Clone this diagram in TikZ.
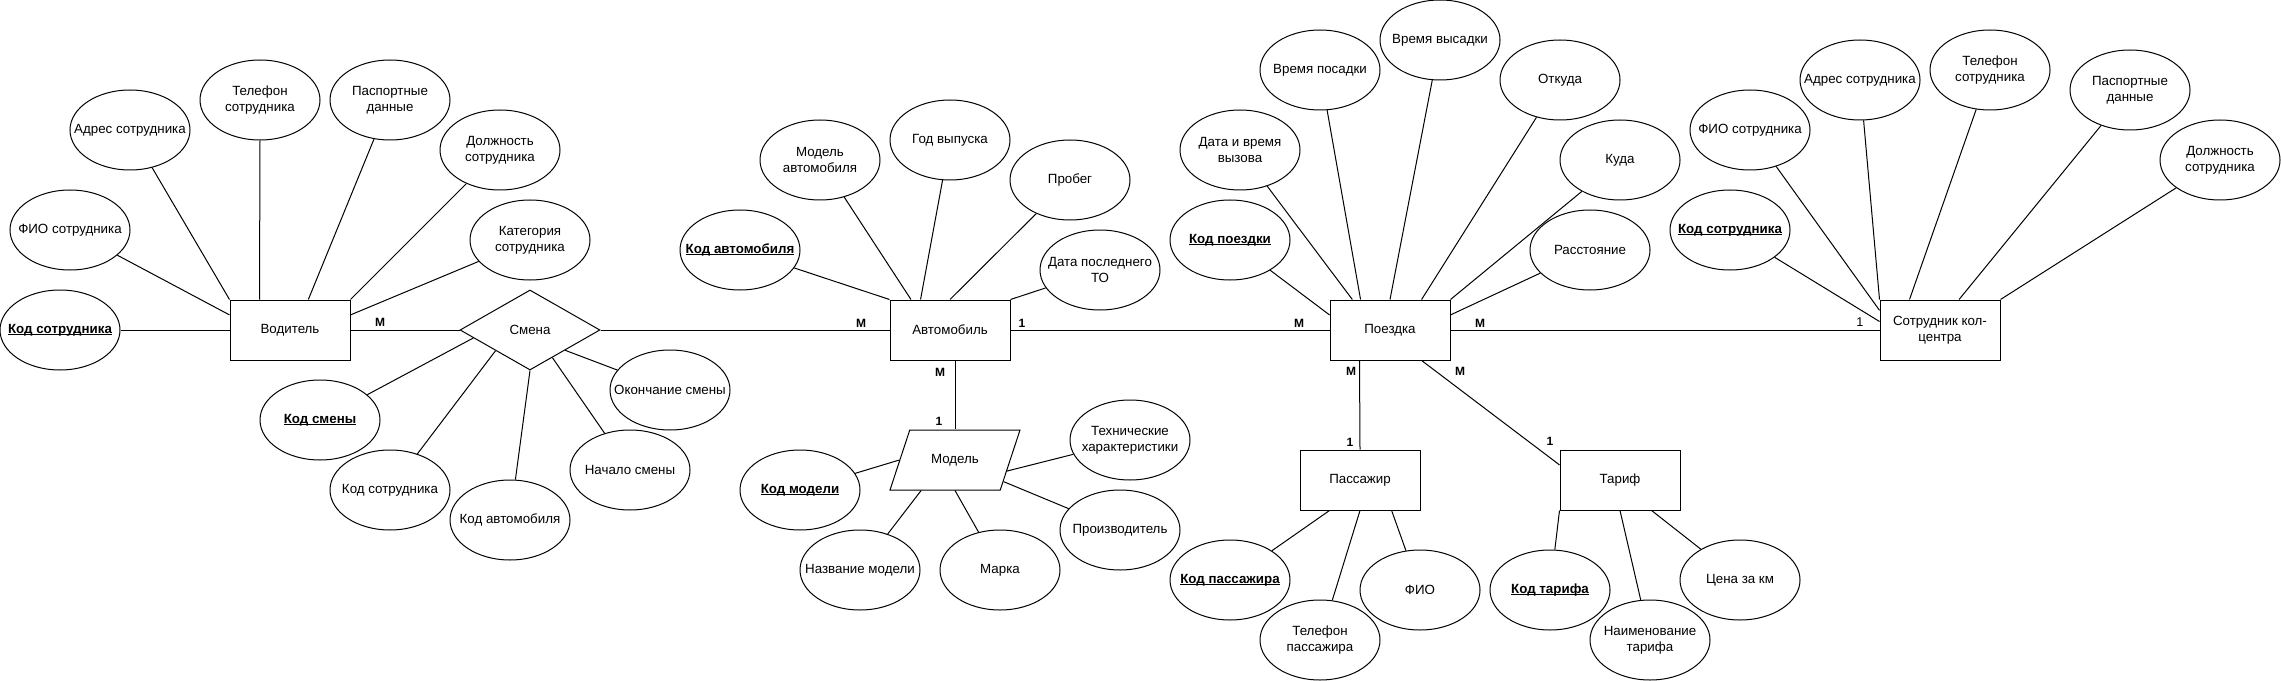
\documentclass[tikz,border=0pt]{standalone}
\usepackage{fontspec}
\setmainfont{Liberation Sans}
\usepackage{tikz}
\usetikzlibrary{shapes.geometric}
\newcommand{\keyname}[1]{\setbox0=\hbox{#1}\rlap{\rule[-1.4pt]{\wd0}{0.7pt}}\box0}
\tikzset{
  entitybox/.style={draw,rectangle,minimum width=90pt,minimum height=45pt,inner sep=1pt,
    align=center,font=\fontsize{10}{12}\selectfont},
  attrellipse/.style={draw,ellipse,minimum width=90pt,minimum height=60pt,inner xsep=-14pt,
    inner ysep=-4pt,align=center,font=\fontsize{10}{12}\selectfont},
  keyellipse/.style={attrellipse,font=\fontsize{10}{12}\selectfont\bfseries},
  relbox/.style={draw,diamond,minimum width=105pt,minimum height=60pt,inner sep=0pt,
    font=\fontsize{10}{12}\selectfont},
  modelbox/.style={draw,trapezium,trapezium left angle=71.57,trapezium right angle=108.43,
    trapezium stretches body,minimum width=97.5pt,minimum height=45pt,inner xsep=0pt,
    inner ysep=17.8pt,font=\fontsize{10}{12}\selectfont},
  erline/.style={line width=0.75pt},
  cardlabel/.style={font=\fontsize{9}{10}\selectfont\bfseries,inner sep=0pt},
  cardlight/.style={font=\fontsize{9.5}{10}\selectfont,inner sep=0pt}
}
\begin{document}
\begin{tikzpicture}[x=0.75pt,y=-0.75pt,every path/.style={line width=0.75pt}]
  \useasboundingbox (0,0) rectangle (2281,681);
  % Водитель
  \node[entitybox] (vod) at (290,330) {Водитель};
  \node[keyellipse] (vodkod) at (60,330) {\keyname{Код сотрудника}};
  \node[attrellipse] (vodfio) at (70,230) {ФИО сотрудника};
  \node[attrellipse] (vodadr) at (130,130) {Адрес сотрудника};
  \node[attrellipse] (vodtel) at (260,100) {Телефон\\сотрудника};
  \node[attrellipse] (vodpasp) at (390,100) {Паспортные\\данные};
  \node[attrellipse] (voddolzh) at (500,150) {Должность\\сотрудника};
  \node[attrellipse] (vodkat) at (530,240) {Категория\\сотрудника};
  \draw[erline] (vod.west) -- (vodkod);
  \draw[erline] (vod.166) -- (vodfio);
  \draw[erline] (vod.north west) -- (vodadr);
  \draw[erline] (vod.135) -- (vodtel.south);
  \draw[erline] (vod.59) -- (vodpasp);
  \draw[erline] (vod.north east) -- (voddolzh);
  \draw[erline] (vod.14) -- (vodkat);

  % Смена
  \node[relbox] (smena) at (530,330) {Смена};
  \node[keyellipse] (smkod) at (320,420) {\keyname{Код смены}};
  \node[attrellipse] (smsotr) at (390,490) {Код сотрудника};
  \node[attrellipse] (smavto) at (510,520) {Код автомобиля};
  \node[attrellipse] (smnach) at (630,470) {Начало смены};
  \node[attrellipse] (smokon) at (670,390) {Окончание смены};
  \draw[erline] (vod.east) -- (smena.west);
  \draw[erline] (smena.188) -- (smkod);
  \draw[erline] (smena.211) -- (smsotr);
  \draw[erline] (smena.south) -- (smavto);
  \draw[erline] (smena.309) -- (smnach);
  \draw[erline] (smena.330) -- (smokon);
  \node[cardlabel] (cvod) at (380,322) {M};

  % Автомобиль
  \node[entitybox] (avto) at (950,330) {Автомобиль};
  \node[keyellipse] (avkod) at (740,250) {\keyname{Код автомобиля}};
  \node[attrellipse] (avmodel) at (820,160) {Модель\\автомобиля};
  \node[attrellipse] (avgod) at (950,140) {Год выпуска};
  \node[attrellipse] (avprob) at (1070,180) {Пробег};
  \node[attrellipse] (avdatato) at (1100,270) {Дата последнего\\ТО};
  \draw[erline] (smena.east) -- (avto.west);
  \draw[erline] (avto.north west) -- (avkod);
  \draw[erline] (avto.142) -- (avmodel);
  \draw[erline] (avto.134) -- (avgod);
  \draw[erline] (avto.north) -- (avprob);
  \draw[erline] (avto.north east) -- (avdatato);
  \node[cardlabel] (cavl) at (861,323) {M};
  \node[cardlabel] (cavr) at (1022,323) {1};
  \node[cardlabel] (cavb) at (940,372) {M};

  % Модель
  \node[modelbox] (model) at (955,460) {Модель};
  \node[keyellipse] (mdkod) at (800,490) {\keyname{Код модели}};
  \node[attrellipse] (mdname) at (860,570) {Название модели};
  \node[attrellipse] (mdmarka) at (1000,570) {Марка};
  \node[attrellipse] (mdteh) at (1130,440) {Технические\\характеристики};
  \node[attrellipse] (mdproizv) at (1120,530) {Производитель};
  \draw[erline] (avto.south -| model.north) -- (model.north);
  \draw[erline] (model.180) -- (mdkod);
  \draw[erline] (model.222) -- (mdname);
  \draw[erline] (model.270) -- (mdmarka);
  \draw[erline] (model.348) -- (mdteh);
  \draw[erline] (model.336) -- (mdproizv);
  \node[cardlabel] (cmod) at (939,421) {1};

  % Поездка
  \node[entitybox] (poezdka) at (1390,330) {Поездка};
  \node[keyellipse] (pkod) at (1230,240) {\keyname{Код поездки}};
  \node[attrellipse] (pdata) at (1240,150) {Дата и время\\вызова};
  \node[attrellipse] (pposad) at (1320,70) {Время посадки};
  \node[attrellipse] (pvysad) at (1440,40) {Время высадки};
  \node[attrellipse] (potkuda) at (1560,80) {Откуда};
  \node[attrellipse] (pkuda) at (1620,160) {Куда};
  \node[attrellipse] (prasst) at (1590,250) {Расстояние};
  \draw[erline] (avto.east) -- (poezdka.west);
  \draw[erline] (poezdka.166) -- (pkod);
  \draw[erline] (poezdka.141) -- (pdata);
  \draw[erline] (poezdka.134) -- (pposad);
  \draw[erline] (poezdka.north) -- (pvysad);
  \draw[erline] (poezdka.44) -- (potkuda);
  \draw[erline] (poezdka.north east) -- (pkuda);
  \draw[erline] (poezdka.14) -- (prasst);
  \node[cardlabel] (cpzl) at (1299,323) {M};
  \node[cardlabel] (cpzr) at (1480,323) {M};
  \node[cardlabel] (cpzb) at (1351,371) {M};
  \node[cardlabel] (cpzt) at (1460,371) {M};

  % Пассажир
  \node[entitybox] (pass) at (1360,480) {Пассажир};
  \node[keyellipse] (pskod) at (1230,580) {\keyname{Код пассажира}};
  \node[attrellipse] (pstel) at (1320,640) {Телефон\\пассажира};
  \node[attrellipse] (psfio) at (1420,590) {ФИО};
  \draw[erline] (poezdka.225) -- (pass.north);
  \draw[erline] (pass.225) -- (pskod);
  \draw[erline] (pass.south) -- (pstel);
  \draw[erline] (pass.316) -- (psfio);
  \node[cardlabel] (cpass) at (1350,442) {1};

  % Тариф
  \node[entitybox] (tarif) at (1620,480) {Тариф};
  \node[keyellipse] (tkod) at (1550,590) {\keyname{Код тарифа}};
  \node[attrellipse] (tname) at (1650,640) {Наименование\\тарифа};
  \node[attrellipse] (tcena) at (1740,580) {Цена за км};
  \draw[erline] (poezdka.316) -- (tarif.166);
  \draw[erline] (tarif.south west) -- (tkod);
  \draw[erline] (tarif.south) -- (tname);
  \draw[erline] (tarif.316) -- (tcena);
  \node[cardlabel] (ctar) at (1550,441) {1};

  % Сотрудник кол-центра
  \node[entitybox] (sotr) at (1940,330) {Сотрудник кол-\\центра};
  \node[keyellipse] (skod) at (1730,230) {\keyname{Код сотрудника}};
  \node[attrellipse] (sfio) at (1750,130) {ФИО сотрудника};
  \node[attrellipse] (sadr) at (1860,80) {Адрес сотрудника};
  \node[attrellipse] (stel) at (1990,70) {Телефон\\сотрудника};
  \node[attrellipse] (spasp) at (2130,90) {Паспортные\\данные};
  \node[attrellipse] (sdolzh) at (2220,160) {Должность\\сотрудника};
  \draw[erline] (poezdka.east) -- (sotr.west);
  \draw[erline] (sotr.172) -- (skod);
  \draw[erline] (sotr.162) -- (sfio);
  \draw[erline] (sotr.north west) -- (sadr);
  \draw[erline] (sotr.135) -- (stel);
  \draw[erline] (sotr.58) -- (spasp);
  \draw[erline] (sotr.north east) -- (sdolzh);
  \node[cardlight] (csotr) at (1860,322) {1};
\end{tikzpicture}
\end{document}
